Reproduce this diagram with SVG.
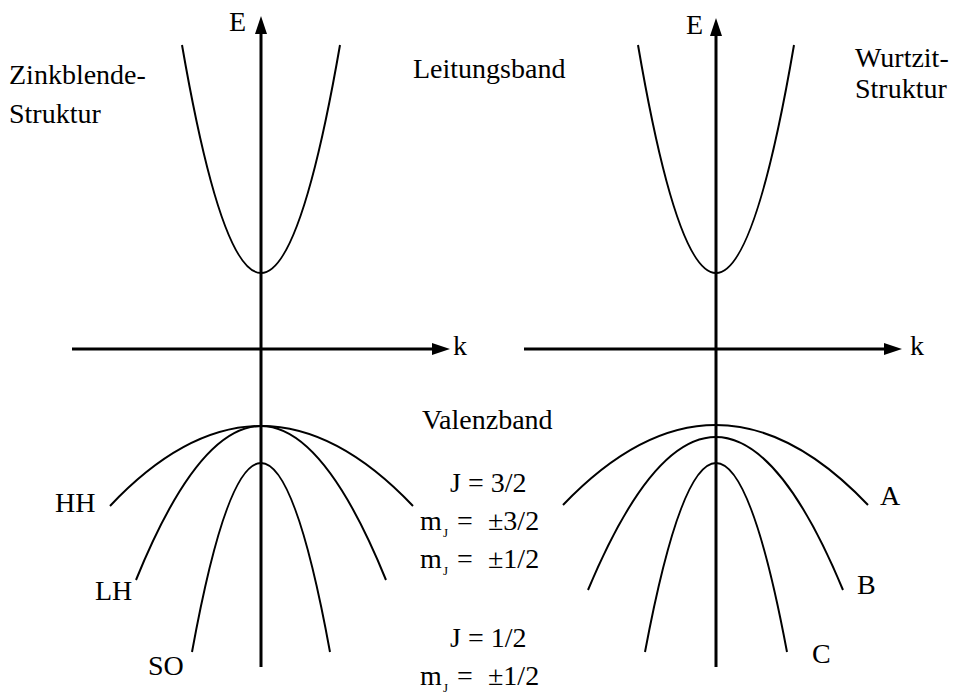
<svg xmlns="http://www.w3.org/2000/svg" width="955" height="696" viewBox="0 0 955 696">
<style>
text{font-family:"Liberation Serif","Times New Roman",serif;font-size:28px;fill:#000}
.sub{font-size:13px}
.axis{stroke:#000;stroke-width:3;fill:none}
.band{stroke:#000;stroke-width:2;fill:none}
</style>
<defs>
<marker id="ah" markerWidth="18" markerHeight="12" refX="0" refY="6" orient="auto" markerUnits="userSpaceOnUse">
<path d="M0,0 L18,6 L0,12 Z" fill="#000"/>
</marker>
</defs>
<rect width="955" height="696" fill="#fff"/>
<g id="connectors">
<line class="axis" x1="261" y1="667" x2="261" y2="34" marker-end="url(#ah)"/>
<line class="axis" x1="72" y1="349" x2="432" y2="349" marker-end="url(#ah)"/>
<line class="axis" x1="716" y1="667" x2="716" y2="36" marker-end="url(#ah)"/>
<line class="axis" x1="524" y1="349" x2="884" y2="349" marker-end="url(#ah)"/>
</g>
<g id="zinkblende-bands">
<path id="cb-left" class="band" d="M182,45 Q261,501 340,45"/>
<path id="hh" class="band" d="M110,506 Q261,346 413,506"/>
<path id="lh" class="band" d="M136,580 Q261,272 386,580"/>
<path id="so" class="band" d="M192,652 Q261,274 330,652"/>
</g>
<g id="wurtzit-bands">
<path id="cb-right" class="band" d="M638,45 Q716,501 794,45"/>
<path id="band-a" class="band" d="M563,505 Q716,345 868,505"/>
<path id="band-b" class="band" d="M588,590 Q716,284 843,590"/>
<path id="band-c" class="band" d="M645,652 Q716,274 787,652"/>
</g>
<g id="labels">
<text x="229" y="31">E</text>
<text x="686" y="34">E</text>
<text x="453" y="355">k</text>
<text x="910" y="355">k</text>
<text x="9" y="84">Zinkblende-</text>
<text x="9" y="123">Struktur</text>
<text x="855" y="67">Wurtzit-</text>
<text x="855" y="98">Struktur</text>
<text x="413" y="78">Leitungsband</text>
<text x="422" y="429">Valenzband</text>
<text x="55" y="512">HH</text>
<text x="95" y="600">LH</text>
<text x="148" y="675">SO</text>
<text x="880" y="505">A</text>
<text x="857" y="594">B</text>
<text x="812" y="663">C</text>
<text x="450" y="492">J = 3/2</text>
<text x="420" y="530">m</text><text class="sub" x="443" y="537">J</text><text x="457" y="530">=</text><text x="488" y="530">±3/2</text>
<text x="420" y="568">m</text><text class="sub" x="443" y="575">J</text><text x="457" y="568">=</text><text x="488" y="568">±1/2</text>
<text x="450" y="647">J = 1/2</text>
<text x="420" y="685">m</text><text class="sub" x="443" y="692">J</text><text x="457" y="685">=</text><text x="488" y="685">±1/2</text>
</g>
</svg>
